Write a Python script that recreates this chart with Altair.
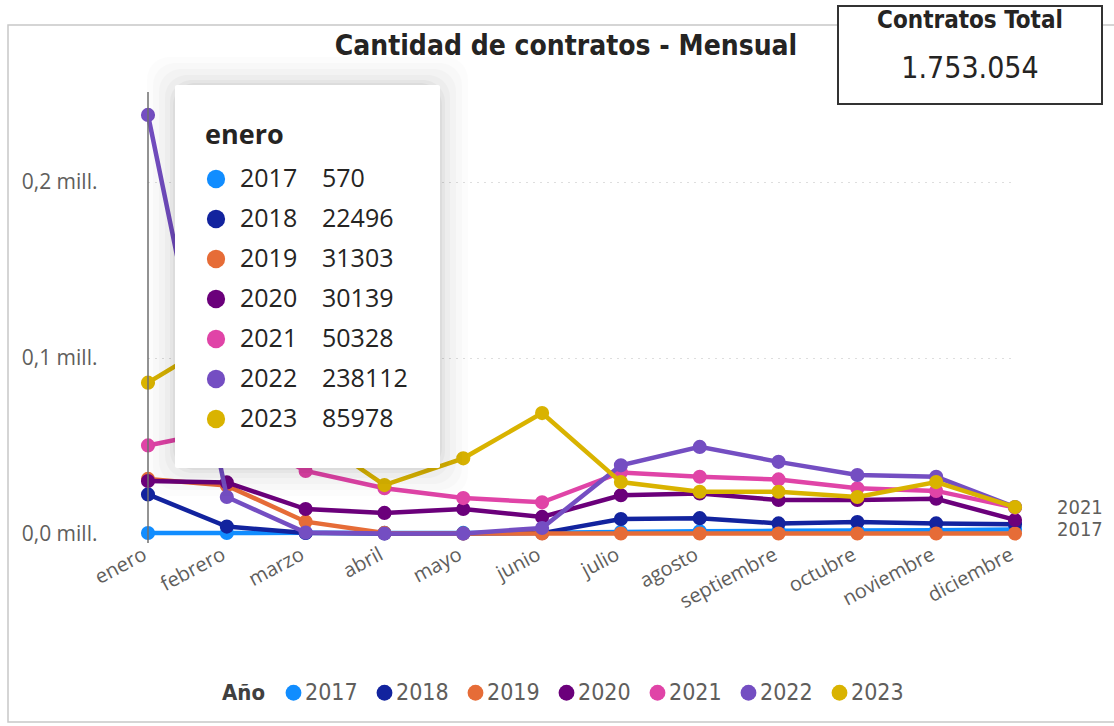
import altair as alt
import pandas as pd

# ---------------- data ----------------
meses = ["enero", "febrero", "marzo", "abril", "mayo", "junio", "julio",
         "agosto", "septiembre", "octubre", "noviembre", "diciembre"]
anios = ["2017", "2018", "2019", "2020", "2021", "2022", "2023"]
colores = ["#118DFF", "#12239E", "#E66C37", "#6B007B", "#E044A7", "#744EC2", "#D9B300"]

c2017 = [570, 600, 700, 600, 600, 700, 1200, 1500, 1800, 2000, 2200, 2500]
c2018 = [22496, 4200, 600, 300, 300, 500, 8500, 9000, 6000, 6800, 6000, 5500]
c2019 = [31303, 27500, 7000, 600, 300, 300, 300, 300, 300, 300, 300, 300]
c2020 = [30139, 29300, 14200, 12000, 14200, 9700, 22000, 23000, 19300, 19300, 20000, 8000]
c2021 = [50328, 59500, 35800, 26000, 20400, 18000, 35000, 32500, 31000, 26000, 24500, 15000]
c2022 = [238112, 21000, 800, 300, 300, 3400, 39000, 49500, 41000, 33500, 32500, 15300]
c2023 = [85978, 113000, 58500, 27800, 43000, 68700, 29500, 24000, 24000, 21000, 29500, 15300]
series = [c2017, c2018, c2019, c2020, c2021, c2022, c2023]

titulo = "Cantidad de contratos - Mensual"
card_titulo = "Contratos Total"
card_valor = "1.753.054"
etiquetas_fin = ["2021", "2017"]
mes_tooltip = "enero"
y_ticks = [0, 100000, 200000]

rows = []
for anio, vals in zip(anios, series):
    for mes, v in zip(meses, vals):
        rows.append({"mes": mes, "anio": anio, "valor": v})
df = pd.DataFrame(rows)

tip = pd.DataFrame({"anio": anios,
                    "valor": [s[meses.index(mes_tooltip)] for s in series],
                    "i": list(range(len(anios)))})

fin = df[(df["mes"] == meses[-1]) & (df["anio"].isin(etiquetas_fin))]

# ---------------- layout helpers ----------------
LEFT, TOP = 116, 94
W, H = 931, 440
def px(x):
    return x - LEFT
def py(y):
    return y - TOP

NARROW = "Liberation Sans Narrow, DejaVu Sans Condensed, Roboto, sans-serif"
UI = "Open Sans, Noto Sans, sans-serif"
GRAY = "#605E5C"
DARK = "#252423"

xscale = alt.Scale(type="point", domain=meses, range=[px(148), px(1015)], padding=0)
yscale = alt.Scale(domain=[0, 250000], nice=False, zero=True)
cscale = alt.Scale(domain=anios, range=colores)

def color_enc():
    return alt.Color("anio:N", scale=cscale, title="Año",
                     legend=alt.Legend(orient="none", legendX=px(222), legendY=py(681),
                                       direction="horizontal", titleOrient="left",
                                       symbolType="circle", symbolSize=250,
                                       symbolStrokeWidth=0,
                                       labelFont=NARROW, labelFontSize=23, labelColor=GRAY,
                                       titleFont=NARROW, titleFontSize=22, titleFontWeight="bold",
                                       titleColor="#404040", titlePadding=16,
                                       labelOffset=0, columnPadding=15))

xenc = alt.X("mes:O", scale=xscale, title=None,
             axis=alt.Axis(labelAngle=332, labelAlign="right", labelBaseline="top",
                           labelPadding=10, labelOffset=-8, labelFont=UI, labelFontSize=20,
                           labelColor=GRAY, domain=False, ticks=False, grid=False))
yenc = alt.Y("valor:Q", scale=yscale, title=None,
             axis=alt.Axis(values=y_ticks,
                           labelExpr="replace(format(datum.value / 1000000, '.1f'), '.', ',') + ' mill.'",
                           labelFont=UI, labelFontSize=21, labelColor=GRAY, labelPadding=19,
                           domain=False, ticks=False, grid=True, gridDash=[1, 6],
                           gridColor="#BDBDBD", gridWidth=1.2))

base = alt.Chart(df)

layers = []
# visual border
layers.append(alt.Chart(pd.DataFrame({"k": [0]})).mark_rect(
    fillOpacity=0, stroke="#C8C8C8", strokeWidth=1.5).encode(
    x=alt.value(px(8)), x2=alt.value(px(1125)), y=alt.value(py(25)), y2=alt.value(py(722))))

# series, each year line + markers
for anio in anios:
    sub = base.transform_filter(alt.datum.anio == anio)
    layers.append(sub.mark_line(strokeWidth=4.5).encode(x=xenc, y=yenc, color=color_enc()))
    layers.append(sub.mark_point(filled=True, size=200, opacity=1).encode(
        x=xenc, y=yenc, color=color_enc()))

# end labels
layers.append(alt.Chart(fin).mark_text(
    align="left", baseline="middle", dx=42, font=NARROW, fontSize=20, color=GRAY).encode(
    x=xenc, y=yenc, text="anio:N"))

# hover rule
layers.append(alt.Chart(pd.DataFrame({"mes": [mes_tooltip]})).mark_rule(
    color="#707070", strokeWidth=1.5).encode(
    x=alt.X("mes:O", scale=xscale), y=alt.value(py(92)), y2=alt.value(py(543))))

# tooltip shadow + box
for k, op in [(28, 0.012), (22, 0.016), (16, 0.02), (10, 0.024), (5, 0.03), (2, 0.035)]:
    layers.append(alt.Chart(pd.DataFrame({"k": [0]})).mark_rect(
        color="#000000", opacity=op, cornerRadius=22).encode(
        x=alt.value(px(175 - k)), x2=alt.value(px(440 + k)),
        y=alt.value(py(85 - k)), y2=alt.value(py(468 + k))))
layers.append(alt.Chart(pd.DataFrame({"k": [0]})).mark_rect(
    color="#FFFFFF", cornerRadius=2).encode(
    x=alt.value(px(175)), x2=alt.value(px(440)), y=alt.value(py(85)), y2=alt.value(py(468))))
layers.append(alt.Chart(pd.DataFrame({"t": [mes_tooltip]})).mark_text(
    align="left", baseline="middle", font=UI, fontSize=27, fontWeight="bold", color=DARK).encode(
    x=alt.value(px(205)), y=alt.value(py(136)), text="t:N"))

tipc = alt.Chart(tip).transform_calculate(ty="85 + 40 * datum.i")
layers.append(tipc.mark_point(filled=True, size=335, opacity=1).encode(
    x=alt.value(px(216)), y=alt.Y("ty:Q", scale=None), color=color_enc()))
layers.append(tipc.mark_text(align="left", baseline="middle", font=UI, fontSize=25, color=DARK).encode(
    x=alt.value(px(240)), y=alt.Y("ty:Q", scale=None), text="anio:N"))
layers.append(tipc.mark_text(align="left", baseline="middle", font=UI, fontSize=25, color=DARK).encode(
    x=alt.value(px(322)), y=alt.Y("ty:Q", scale=None), text=alt.Text("valor:Q", format="d")))

# title
layers.append(alt.Chart(pd.DataFrame({"t": [titulo]})).mark_text(
    align="center", baseline="middle", font=NARROW, fontSize=28, fontWeight="bold", color=DARK).encode(
    x=alt.value(px(566)), y=alt.value(py(47)), text="t:N"))

# card
layers.append(alt.Chart(pd.DataFrame({"k": [0]})).mark_rect(
    color="#FFFFFF", stroke="#333333", strokeWidth=2).encode(
    x=alt.value(px(838)), x2=alt.value(px(1102)), y=alt.value(py(6)), y2=alt.value(py(104))))
layers.append(alt.Chart(pd.DataFrame({"t": [card_titulo]})).mark_text(
    align="center", baseline="middle", font=NARROW, fontSize=24, fontWeight="bold", color=DARK).encode(
    x=alt.value(px(970)), y=alt.value(py(21)), text="t:N"))
layers.append(alt.Chart(pd.DataFrame({"t": [card_valor]})).mark_text(
    align="center", baseline="middle", font=NARROW, fontSize=30, color=DARK).encode(
    x=alt.value(px(970)), y=alt.value(py(69)), text="t:N"))

chart = alt.layer(*layers).properties(
    width=W, height=H,
    padding={"left": LEFT, "top": TOP, "right": 1114 - LEFT - W, "bottom": 726 - TOP - H},
    autosize=alt.AutoSizeParams(type="none"),
    background="#FFFFFF",
).configure_view(strokeWidth=0)

chart.save("out.html", embed_options={"renderer": "svg", "actions": False})
